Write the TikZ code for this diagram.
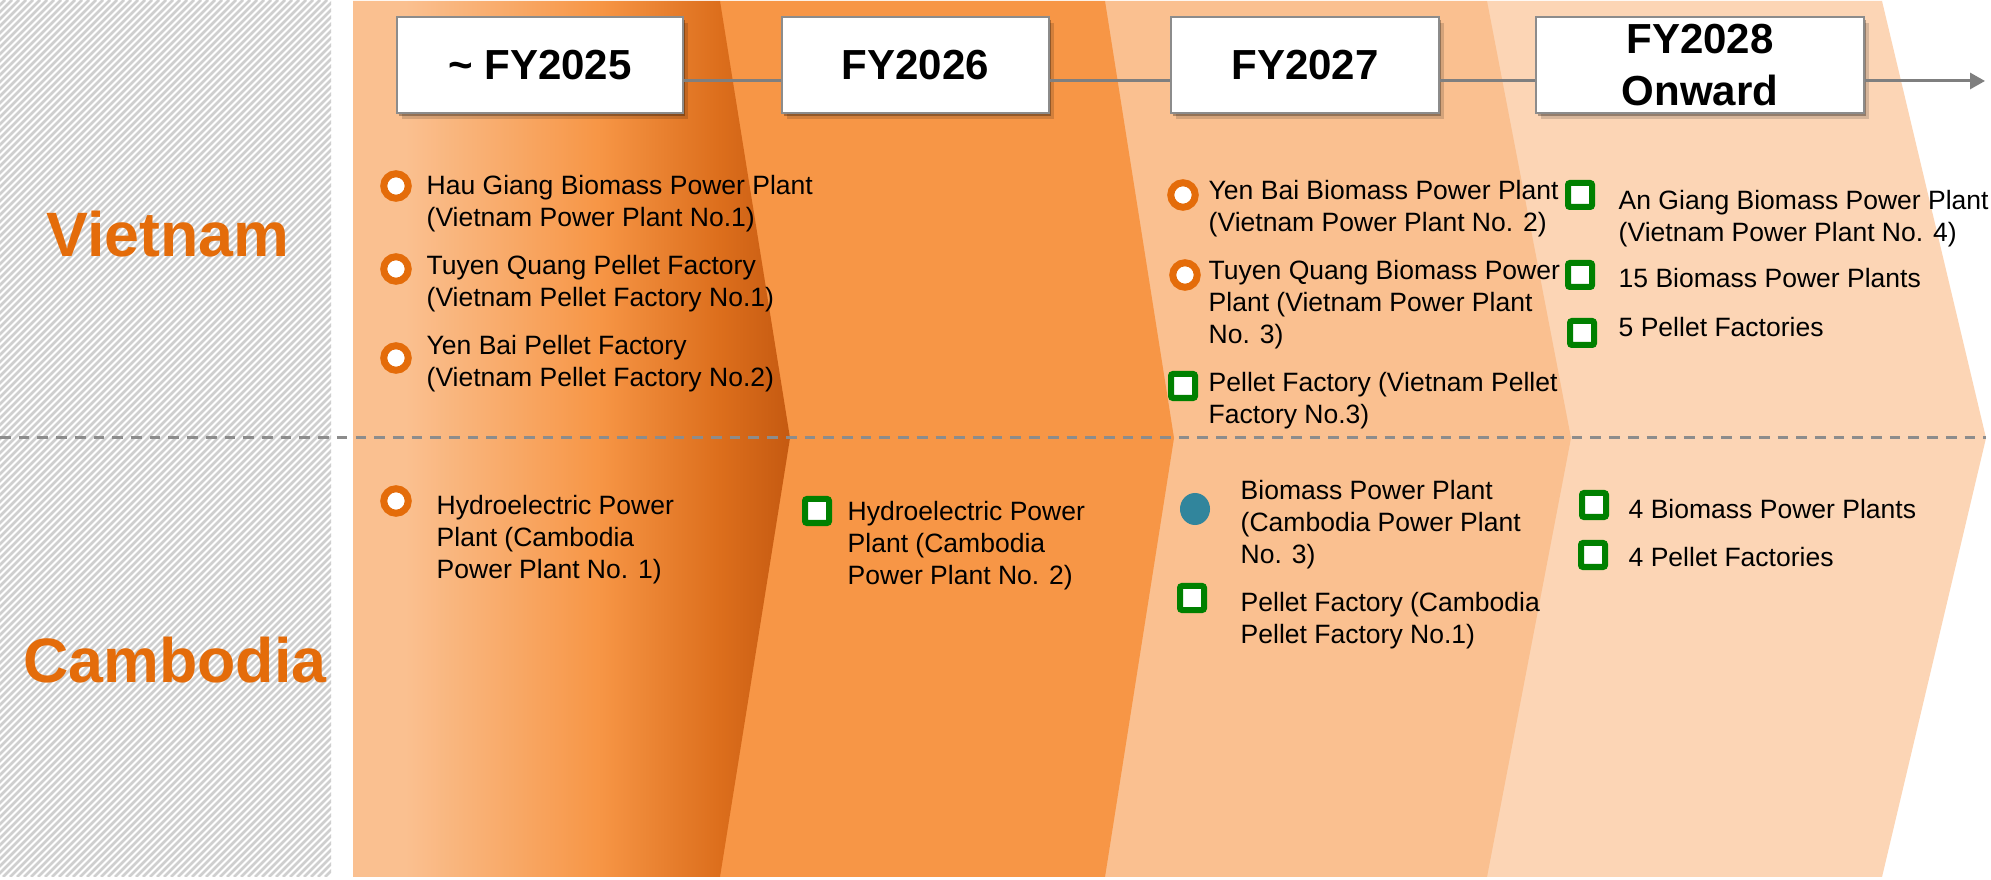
\documentclass[tikz,border=0pt]{standalone}
\usepackage{fontspec}
\setmainfont{Liberation Sans}
\usetikzlibrary{arrows.meta,shadows,shapes.geometric}
\definecolor{bandA}{HTML}{FAC090}
\definecolor{bandB}{HTML}{F79646}
\definecolor{bandMid}{HTML}{DC6E1C}
\definecolor{bandDark}{HTML}{C55A11}
\definecolor{bandC}{HTML}{FAC090}
\definecolor{bandD}{HTML}{FCD5B5}
\definecolor{vorange}{HTML}{E46C0A}
\definecolor{sqgreen}{HTML}{008000}
\definecolor{dotblue}{HTML}{31859C}
\definecolor{boxgray}{HTML}{8C8C8C}
\definecolor{linegray}{HTML}{7F7F7F}
\definecolor{dashgray}{HTML}{8C8C8C}
\definecolor{hatchgray}{HTML}{CFCFCF}
\pgfdeclarehorizontalshading{bandone}{100bp}{color(0bp)=(bandA); color(25bp)=(bandA); color(31bp)=(bandA); color(53bp)=(bandB); color(67bp)=(bandMid); color(75bp)=(bandDark); color(100bp)=(bandDark)}
\newcommand{\ml}[1]{\begin{tabular}[t]{@{}l@{}}#1\end{tabular}}
\begin{document}
\begin{tikzpicture}[x=0.01cm,y=-0.01cm,
  itemtxt/.style={anchor=base west, inner sep=0pt, font=\fontsize{7.54}{9.0}\selectfont},
  softshadow/.style={drop shadow={shadow xshift=0.02cm,shadow yshift=-0.03cm,opacity=0.3,fill=black},
                     drop shadow={shadow xshift=0.05cm,shadow yshift=-0.06cm,opacity=0.15,fill=black}},
  yearbox/.style={draw=boxgray, line width=0.025cm, fill=white, inner sep=0pt,
                  minimum height=0.96cm, font=\bfseries\fontsize{11.95}{14.8}\selectfont,
                  align=center, softshadow},
  ring/.style={circle, draw=vorange, line width=0.07cm, fill=white, minimum size=0.245cm, inner sep=0pt},
  sq/.style={rectangle, draw=sqgreen, line width=0.06cm, fill=white, minimum size=0.24cm, inner sep=0pt, rounded corners=0.02cm},
  bluedot/.style={ellipse, fill=dotblue, minimum width=0.30cm, minimum height=0.32cm, inner sep=0pt},
  country/.style={font=\bfseries\fontsize{17.84}{20}\selectfont, text=vorange, inner sep=0pt},
  conn/.style={draw=linegray, line width=0.03cm},
  hatchline/.style={draw=hatchgray, line width=0.025cm},
  divider/.style={draw=dashgray, line width=0.03cm, dash pattern=on 0.107cm off 0.08cm}
]
\fill[white] (0,0) rectangle (1991,880);
\useasboundingbox (0,0) rectangle (1991,880);

% hatched country panel
\begin{scope}
  \clip (0,0) rectangle (331,877);
  \foreach \i in {-900,-893,...,340} {
    \draw[hatchline] (\i,877) -- ++(877,-877);
  }
\end{scope}

% chevron bands (back to front)
\fill[bandD] (1487,1) -- (1882,1) -- (1986,438) -- (1882,877) -- (1487,877) -- cycle;
\fill[bandC] (1105,1) -- (1487,1) -- (1571,438) -- (1487,877) -- (1105,877) -- cycle;
\fill[bandB] (720,1) -- (1105,1) -- (1174,438) -- (1105,877) -- (720,877) -- cycle;
\shade[shading=bandone]
  (353,1) -- (720,1) -- (790,438) -- (720,877) -- (353,877) -- cycle;

% divider
\coordinate (dl) at (0,438);
\coordinate (dr) at (1986,438);
\draw[divider] (dl) -- (dr);

% year boxes
\node[yearbox, minimum width=2.86cm] (b1) at (540,65) {\textasciitilde\ FY2025};
\node[yearbox, minimum width=2.67cm] (b2) at (915.5,65) {FY2026};
\node[yearbox, minimum width=2.68cm] (b3) at (1305,65) {FY2027};
\node[yearbox, minimum width=3.28cm] (b4) at (1700,65) {FY2028\\Onward};
\coordinate (ly) at (0,81);
\coordinate (tip) at (1985,81);
\draw[conn] (b1.east |- ly) -- (b2.west |- ly);
\draw[conn] (b2.east |- ly) -- (b3.west |- ly);
\draw[conn] (b3.east |- ly) -- (b4.west |- ly);
\draw[conn, -{Triangle[length=0.15cm,width=0.16cm]}] (b4.east |- ly) -- (tip);

% country labels
\node[country] (vn) at (168,234) {Vietnam};
\node[country] (kh) at (175,660) {Cambodia};

% Vietnam ~FY2025
\node[ring] (v1m) at (396,186) {};
\node[itemtxt] (v1t) at (426,195) {\ml{Hau Giang Biomass Power Plant\\(Vietnam Power Plant No.1)}};
\node[ring] (v2m) at (396,269) {};
\node[itemtxt] (v2t) at (426,275) {\ml{Tuyen Quang Pellet Factory\\(Vietnam Pellet Factory No.1)}};
\node[ring] (v3m) at (396,358) {};
\node[itemtxt] (v3t) at (426,355) {\ml{Yen Bai Pellet Factory\\(Vietnam Pellet Factory No.2)}};

% Vietnam FY2027
\node[ring] (v4m) at (1183,195) {};
\node[itemtxt] (v4t) at (1208,200) {\ml{Yen Bai Biomass Power Plant\\(Vietnam Power Plant No. 2)}};
\node[ring] (v5m) at (1185,275) {};
\node[itemtxt] (v5t) at (1208,280) {\ml{Tuyen Quang Biomass Power\\Plant (Vietnam Power Plant\\No. 3)}};
\node[sq] (v6m) at (1183,386) {};
\node[itemtxt] (v6t) at (1208,392) {\ml{Pellet Factory (Vietnam Pellet\\Factory No.3)}};

% Vietnam FY2028
\node[sq] (v7m) at (1580,195) {};
\node[itemtxt] (v7t) at (1618,210) {\ml{An Giang Biomass Power Plant\\(Vietnam Power Plant No. 4)}};
\node[sq] (v8m) at (1580,275) {};
\node[itemtxt] (v8t) at (1618,288) {15 Biomass Power Plants};
\node[sq] (v9m) at (1582,333) {};
\node[itemtxt] (v9t) at (1618,337) {5 Pellet Factories};

% Cambodia
\node[ring] (c1m) at (396,501) {};
\node[itemtxt] (c1t) at (436,515) {\ml{Hydroelectric Power\\Plant (Cambodia\\Power Plant No. 1)}};
\node[sq] (c2m) at (817,511) {};
\node[itemtxt] (c2t) at (847,521) {\ml{Hydroelectric Power\\Plant (Cambodia\\Power Plant No. 2)}};
\node[bluedot] (c3m) at (1195,509) {};
\node[itemtxt] (c3t) at (1240,500) {\ml{Biomass Power Plant\\(Cambodia Power Plant\\No. 3)}};
\node[sq] (c4m) at (1192,598) {};
\node[itemtxt] (c4t) at (1240,612) {\ml{Pellet Factory (Cambodia\\Pellet Factory No.1)}};
\node[sq] (c5m) at (1594,505) {};
\node[itemtxt] (c5t) at (1628,519) {4 Biomass Power Plants};
\node[sq] (c6m) at (1593,555) {};
\node[itemtxt] (c6t) at (1628,567) {4 Pellet Factories};
\end{tikzpicture}
\end{document}
